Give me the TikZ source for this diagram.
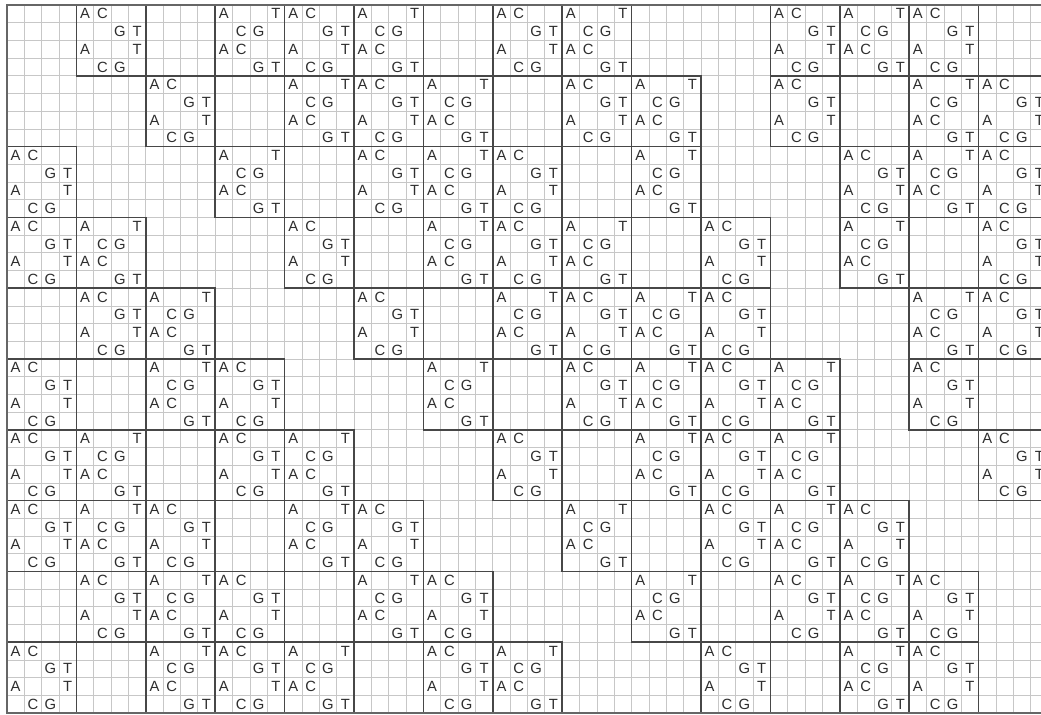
\documentclass[tikz,border=0pt]{standalone}
\usepackage{fontspec}
\setsansfont{Liberation Sans}
\usepackage{tikz}

\begin{document}
\begin{tikzpicture}[
	x={(8.675pt,0)},y={(0,-8.85pt)},
	cell/.style={font=\sffamily\fontsize{7.4pt}{7.4pt}\selectfont,text=black!82,inner sep=0pt},
	thinrule/.style={black!22,line width=0.35pt},
	blockrule/.style={black!72,line width=0.8pt},
	gx/.pic={
		\node[cell] (a1) at (0.5,0.5) {A}; \node[cell] (c1) at (1.5,0.5) {C};
		\node[cell] (g1) at (2.5,1.5) {G}; \node[cell] (t1) at (3.5,1.5) {T};
		\node[cell] (a2) at (0.5,2.5) {A}; \node[cell] (t2) at (3.5,2.5) {T};
		\node[cell] (c2) at (1.5,3.5) {C}; \node[cell] (g2) at (2.5,3.5) {G};
		\draw[blockrule] (0,0) rectangle (4,4);
	},
	gy/.pic={
		\node[cell] (a1) at (0.5,0.5) {A}; \node[cell] (t1) at (3.5,0.5) {T};
		\node[cell] (c1) at (1.5,1.5) {C}; \node[cell] (g1) at (2.5,1.5) {G};
		\node[cell] (a2) at (0.5,2.5) {A}; \node[cell] (c2) at (1.5,2.5) {C};
		\node[cell] (g2) at (2.5,3.5) {G}; \node[cell] (t2) at (3.5,3.5) {T};
		\draw[blockrule] (0,0) rectangle (4,4);
	}
	]
	\clip (-0.403,-0.282) rectangle (59.6,40.11);
	\fill[white] (-0.403,-0.282) rectangle (59.6,40.11);
	
	% fine grid
	\foreach \i in {0,...,60}
		\draw[thinrule] (\i,0) -- (\i,40);
	\foreach \j in {0,...,40}
		\draw[thinrule] (0,\j) -- (60,\j);
	
	% blocks of kind X (column/band)
	\foreach \c/\r in {1/0,4/0,7/0,11/0,13/0,
		2/1,5/1,8/1,11/1,14/1,
		0/2,5/2,7/2,12/2,14/2,
		0/3,4/3,7/3,10/3,14/3,
		1/4,5/4,8/4,10/4,14/4,
		0/5,3/5,8/5,10/5,13/5,
		0/6,3/6,7/6,10/6,14/6,
		0/7,2/7,5/7,10/7,12/7,
		1/8,3/8,6/8,11/8,13/8,
		0/9,3/9,6/9,10/9,13/9}
		\pic (x\c-\r) at (4*\c,4*\r) {gx};
	
	% blocks of kind Y
	\foreach \c/\r in {3/0,5/0,8/0,12/0,
		4/1,6/1,9/1,13/1,
		3/2,6/2,9/2,13/2,
		1/3,6/3,8/3,12/3,
		2/4,7/4,9/4,13/4,
		2/5,6/5,9/5,11/5,
		1/6,4/6,9/6,11/6,
		1/7,4/7,8/7,11/7,
		2/8,5/8,9/8,12/8,
		2/9,4/9,7/9,12/9}
		\pic (y\c-\r) at (4*\c,4*\r) {gy};
	
	% outer frame
	\draw[black!60,line width=0.9pt] (0,0) rectangle (60,40);
\end{tikzpicture}
\end{document}
